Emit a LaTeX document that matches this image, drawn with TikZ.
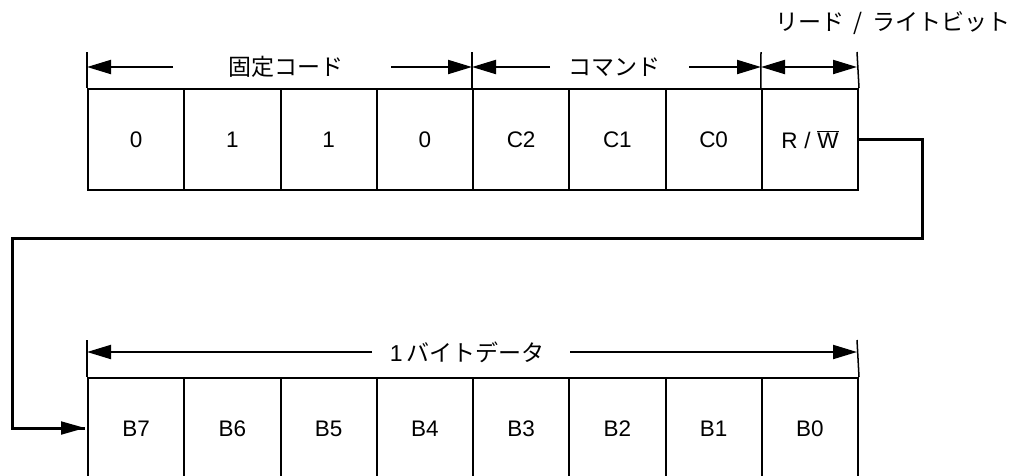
\documentclass[tikz,border=0pt]{standalone}
\usepackage{fontspec}
\setmainfont{Liberation Sans}
\newfontfamily\jp{Noto Sans CJK JP}
\usetikzlibrary{arrows.meta}
\begin{document}
\begin{tikzpicture}[x=1pt,y=-1pt,
  cell/.style={draw=black,line width=2pt,minimum width=96.25pt,minimum height=101pt,inner sep=0pt,anchor=north west,font=\fontsize{22.5}{26}\selectfont},
  tick/.style={line width=1.5pt},
  dim/.style={line width=2pt,-{Triangle[length=24pt,width=14pt]}},
  dimboth/.style={line width=2pt,{Triangle[length=24pt,width=14pt]}-{Triangle[length=24pt,width=14pt]}},
  lbl/.style={font=\jp\fontsize{23}{26}\selectfont,inner sep=0pt},
  conn/.style={line width=3pt,line join=miter}
]
\clip (0,0) rectangle (1019,475);
\fill[white] (0,0) rectangle (1019,475);
% top row
\foreach \t [count=\i from 0] in {0,1,1,0,C2,C1,C0,{R\hspace{0.3em}/\hspace{0.3em}$\overline{\mbox{W}}$}} {
  \node[cell] (t\i) at ({87+96.25*\i},88) {\t};
}
% bottom row
\foreach \t [count=\i from 0] in {B7,B6,B5,B4,B3,B2,B1,B0} {
  \node[cell] (b\i) at ({87+96.25*\i},377) {\t};
}
% ticks top
\coordinate (k0) at (87,52);
\coordinate (k1) at (472,52);
\coordinate (k2) at (761,52);
\coordinate (k3) at (857,52);
\draw[tick] (k0) -- (t0.north west);
\draw[tick] (k1) -- (t4.north west);
\draw[tick] (k2) -- (t7.north west);
\draw[tick] (k3) -- (t7.north east);
% labels top
\node[lbl] (lfix) at (286,67) {固定コード};
\node[lbl] (lcmd) at (614,67) {コマンド};
\node[lbl] (lrw) at (893,23) {リード\hspace{0.4em}/\hspace{0.4em}ライトビット};
\coordinate (a1) at (173,67);
\coordinate (a2) at (391,67);
\coordinate (a3) at (550,67);
\coordinate (a4) at (689,67);
\draw[dim] (a1) -- (87,67);
\draw[dim] (a2) -- (472,67);
\draw[dim] (a3) -- (472,67);
\draw[dim] (a4) -- (761,67);
\draw[dimboth] (761,67) -- (857,67);
% bottom ticks and dimension
\draw[tick] (87,340) -- (b0.north west);
\draw[tick] (857,340) -- (b7.north east);
\node[lbl] (lbyte) at (467,352) {{\fontspec{Liberation Sans}1}\hspace{0.15em}バイトデータ};
\coordinate (c1) at (372,352);
\coordinate (c2) at (570,352);
\draw[dim] (c1) -- (87,352);
\draw[dim] (c2) -- (857,352);
% connector
\coordinate (p2) at (922,238);
\coordinate (p1) at (t7.east -| p2);
\coordinate (p3) at (12,238);
\coordinate (p4) at (12,428);
\coordinate (p5) at ([xshift=-2pt]b0.west |- p4);
\draw[conn] (t7.east) -- (p1) -- (p2) -- (p3) -- (p4) -- (p5);
\draw[line width=2pt,-{Triangle[length=24pt,width=13pt]}] (p4) -- (p5);
\end{tikzpicture}
\end{document}
